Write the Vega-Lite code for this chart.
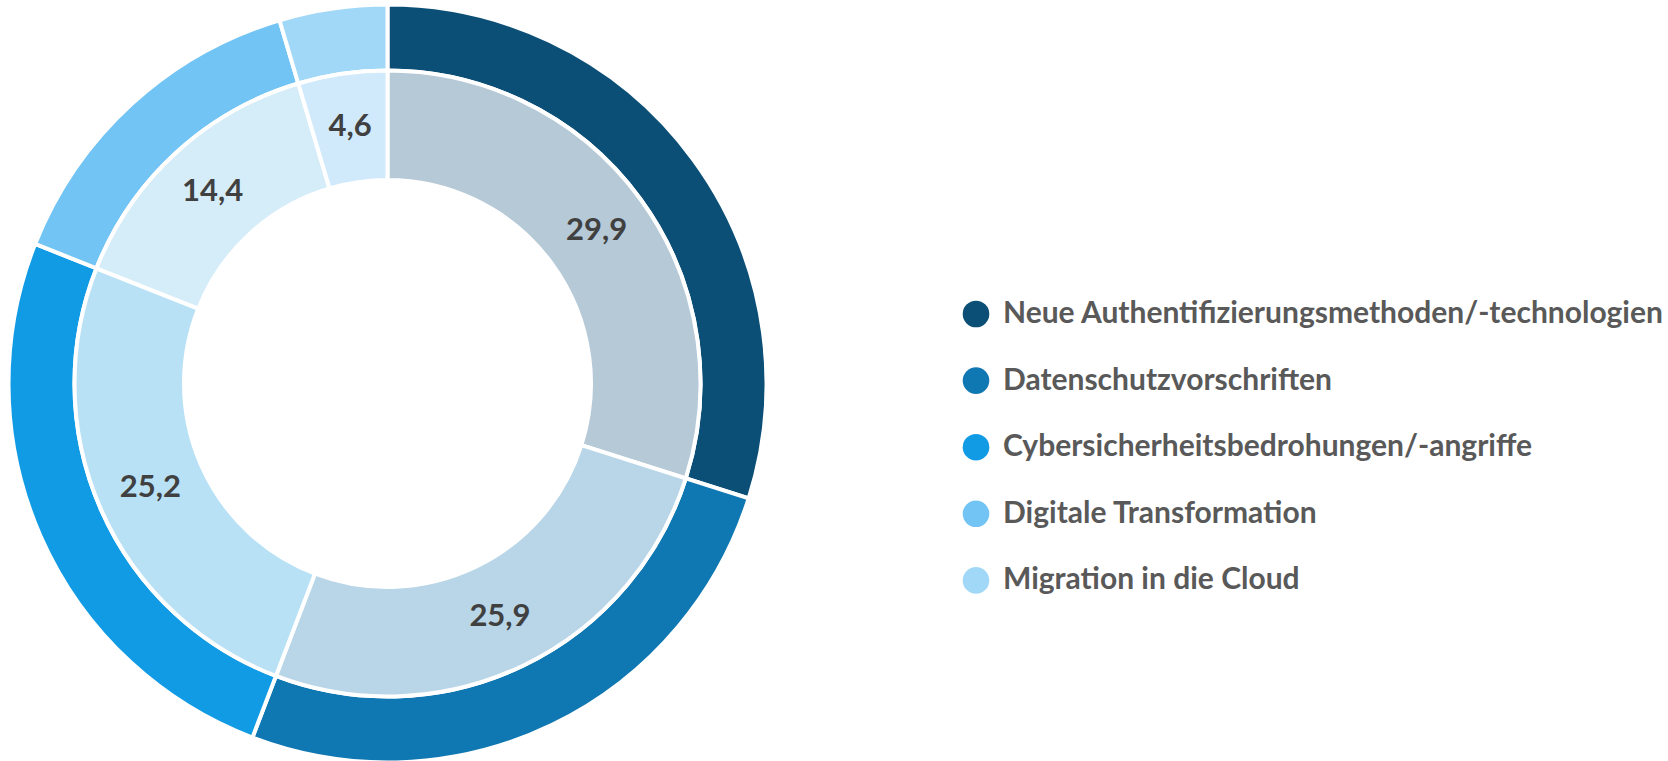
{
  "$schema": "https://vega.github.io/schema/vega-lite/v6.json",
  "width": 775,
  "height": 767,
  "autosize": {"type": "none"},
  "padding": {"left": 0, "top": 0, "right": 893, "bottom": -6},
  "background": "white",
  "config": {
    "view": {"stroke": null},
    "locale": {"number": {"decimal": ",", "thousands": ".", "grouping": [3], "currency": ["", " €"]}}
  },
  "data": {
    "values": [
      {"Kategorie": "Neue Authentifizierungsmethoden/-technologien", "Anteil": 29.9, "Rang": 1},
      {"Kategorie": "Datenschutzvorschriften", "Anteil": 25.9, "Rang": 2},
      {"Kategorie": "Cybersicherheitsbedrohungen/-angriffe", "Anteil": 25.2, "Rang": 3},
      {"Kategorie": "Digitale Transformation", "Anteil": 14.4, "Rang": 4},
      {"Kategorie": "Migration in die Cloud", "Anteil": 4.6, "Rang": 5}
    ]
  },
  "encoding": {
    "theta": {"field": "Anteil", "type": "quantitative", "stack": true},
    "order": {"field": "Rang", "type": "quantitative"}
  },
  "layer": [
    {
      "mark": {"type": "arc", "outerRadius": 379, "innerRadius": 313, "stroke": "white", "strokeWidth": 4},
      "encoding": {
        "color": {
          "field": "Kategorie",
          "type": "nominal",
          "scale": {
            "domain": ["Neue Authentifizierungsmethoden/-technologien", "Datenschutzvorschriften", "Cybersicherheitsbedrohungen/-angriffe", "Digitale Transformation", "Migration in die Cloud"],
            "range": ["#0B4F76", "#0F77B1", "#129BE5", "#72C4F4", "#A2D8F7"]
          },
          "legend": {
            "title": null,
            "orient": "none",
            "legendX": 961,
            "legendY": 299,
            "padding": 0,
            "symbolType": "circle",
            "symbolSize": 707,
            "symbolStrokeWidth": 0,
            "labelFont": "Lato",
            "labelFontSize": 30,
            "labelFontWeight": "bold",
            "labelColor": "#595959",
            "labelOffset": 12,
            "labelLimit": 800,
            "rowPadding": 36.6,
            "labelExpr": "datum.label == 'Digitale Transformation' || datum.label == 'Migration in die Cloud' ? '\u00a0' + datum.label : datum.label"
          }
        }
      }
    },
    {
      "mark": {"type": "arc", "outerRadius": 313, "innerRadius": 203.5, "stroke": "white", "strokeWidth": 4},
      "encoding": {
        "color": {
          "field": "Kategorie",
          "type": "nominal",
          "scale": {
            "domain": ["Neue Authentifizierungsmethoden/-technologien", "Datenschutzvorschriften", "Cybersicherheitsbedrohungen/-angriffe", "Digitale Transformation", "Migration in die Cloud"],
            "range": ["#B6C9D7", "#B8D6E7", "#B9E1F6", "#D5ECF9", "#D0EAFB"]
          },
          "legend": null
        }
      }
    },
    {
      "mark": {"type": "text", "radius": 259, "font": "Lato", "fontSize": 31, "fontWeight": "bold", "color": "#404040", "align": "center", "baseline": "middle"},
      "encoding": {
        "text": {"field": "Anteil", "type": "quantitative", "format": ".1f"}
      }
    }
  ],
  "resolve": {"scale": {"color": "independent"}}
}
